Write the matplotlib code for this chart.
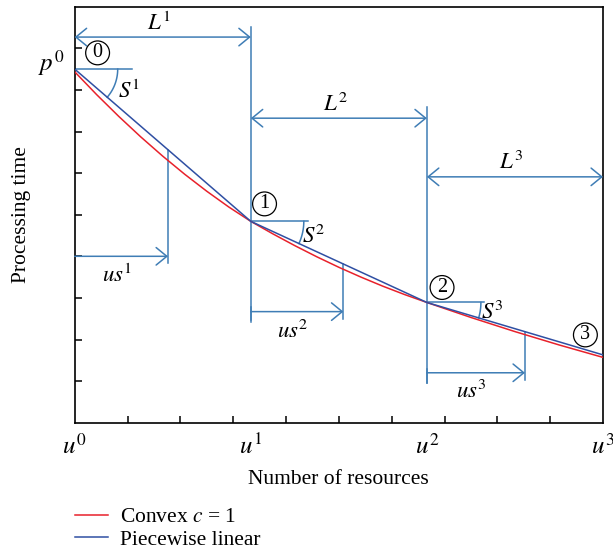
import numpy as np
import matplotlib
matplotlib.use('Agg')
import matplotlib.pyplot as plt

plt.rcParams['font.family'] = ['Liberation Serif', 'DejaVu Serif']
plt.rcParams['mathtext.fontset'] = 'stix'

# breakpoints u^0..u^3 and the piecewise linear processing time
u_pts = [0, 1, 2, 3]
p_lin = [8.50, 4.84, 2.89, 1.63]

# convex curve (c = 1)
u_cvx = [0, 0.125, 0.25, 0.375, 0.5, 0.625, 0.75, 0.875,
         1.0, 1.125, 1.25, 1.375, 1.5, 1.625, 1.75, 1.875,
         2.0, 2.25, 2.5, 2.75, 3.0]
p_cvx = [8.435, 7.885, 7.364, 6.871, 6.407, 5.971, 5.564, 5.185,
         4.84, 4.54, 4.256, 3.988, 3.736, 3.501, 3.281, 3.078,
         2.89, 2.53, 2.19, 1.87, 1.57]

# annotation values
us_end = [0.53, 1.526, 2.557]
us_y = [4.0, 2.67, 1.20]
L_y = [9.27, 7.32, 5.91]
S_radius = [43, 53, 54]          # pixels

CVX = '#e8212b'
LIN = '#2f4fa3'
ANN = '#3f7db5'

W, H = 613, 556
fig = plt.figure(figsize=(W / 100, H / 100), dpi=100)
ax = fig.add_axes([74.7 / W, 1 - 422.7 / H, (603 - 74.7) / W, (422.7 - 6.7) / H])
ax.set_xlim(0, 3)
ax.set_ylim(0, 10)
sx = (603 - 74.7) / 3
sy = (422.7 - 6.7) / 10

ax.plot(u_cvx, p_cvx, color=CVX, lw=1.1, label='Convex $c$ = 1', zorder=3)
ax.plot(u_pts, p_lin, color=LIN, lw=1.1, label='Piecewise linear', zorder=4)

alw = 1.1
arr = dict(arrowstyle='<->,head_length=0.55,head_width=0.45', color=ANN, lw=alw,
           shrinkA=0, shrinkB=0, mutation_scale=14)
arr1 = dict(arr, arrowstyle='->,head_length=0.55,head_width=0.45')

# L^k spans
for k in range(3):
    ax.annotate('', xy=(u_pts[k + 1], L_y[k]), xytext=(u_pts[k], L_y[k]), arrowprops=arr)
    ax.text((u_pts[k] + u_pts[k + 1]) / 2 - 0.02, L_y[k] + 0.34, '$L^{%d}$' % (k + 1),
            fontsize=16.5, ha='center', va='center')
ax.plot([1, 1], [9.51, 2.47], color=ANN, lw=alw)
ax.plot([2, 2], [7.59, 0.95], color=ANN, lw=alw)

# us^k
us_label_y = [3.55, 2.2, 0.75]
for k in range(3):
    x0 = u_pts[k]
    x1 = us_end[k]
    ptop = np.interp(x1, u_pts, p_lin)
    ax.annotate('', xy=(x1, us_y[k]), xytext=(x0, us_y[k]), arrowprops=arr1)
    ax.plot([x1, x1], [ptop, us_y[k] - 0.17], color=ANN, lw=alw)
    if k > 0:
        ax.plot([x0, x0], [us_y[k] + 0.1, us_y[k] - 0.25], color=ANN, lw=alw)
    ax.text(x0 + (x1 - x0) * 0.45, us_label_y[k], '$us^{%d}$' % (k + 1),
            fontsize=16.5, ha='center', va='center')

# slopes S^k
S_lab = [(0.31, 7.97), (1.36, 4.49), (2.37, 2.65)]
for k in range(3):
    x0, y0 = u_pts[k], p_lin[k]
    ax.plot([x0, x0 + 57 / sx], [y0, y0], color=ANN, lw=alw)
    slope = (p_lin[k + 1] - p_lin[k]) * sy / sx
    th = np.linspace(0, np.arctan(-slope), 30)
    r = S_radius[k]
    ax.plot(x0 + r * np.cos(th) / sx, y0 - r * np.sin(th) / sy, color=ANN, lw=alw)
    ax.text(S_lab[k][0], S_lab[k][1], '$S^{%d}$' % (k + 1), fontsize=16.5,
            ha='center', va='center')

# circled breakpoint numbers
circ = [(0.13, 8.89), (1.078, 5.26), (2.086, 3.25), (2.90, 2.11)]
for k, (cx, cy) in enumerate(circ):
    ax.text(cx, cy, str(k), fontsize=14.5, ha='center', va='center',
            bbox=dict(boxstyle='circle,pad=0.12', fc='white', ec='black', lw=0.9))

ax.text(-0.135, 8.65, '$p^0$', fontsize=18, ha='center', va='center', clip_on=False)

# axes styling
for s in ax.spines.values():
    s.set_linewidth(1.2)
ax.set_xticks(u_pts)
ax.set_xticklabels(['$u^{%d}$' % i for i in u_pts], fontsize=18)
ax.set_xticks(np.arange(1, 10) * 0.3, minor=True)
ax.set_yticks([])
ax.set_yticks(np.arange(1, 10), minor=True)
ax.tick_params(axis='x', which='major', length=0, pad=8)
ax.tick_params(which='minor', direction='in', length=5, width=1.1)
ax.set_xlabel('Number of resources', fontsize=15.5, labelpad=8)
ax.set_ylabel('Processing time', fontsize=15.5, labelpad=28)

leg = ax.legend(loc='upper left', bbox_to_anchor=(75 / W, 1 - 507 / H),
                bbox_transform=fig.transFigure, frameon=False, fontsize=15.5,
                handlelength=1.55, handletextpad=0.55, labelspacing=0.12,
                borderpad=0, borderaxespad=0)

fig.savefig('out.png', dpi=100)
